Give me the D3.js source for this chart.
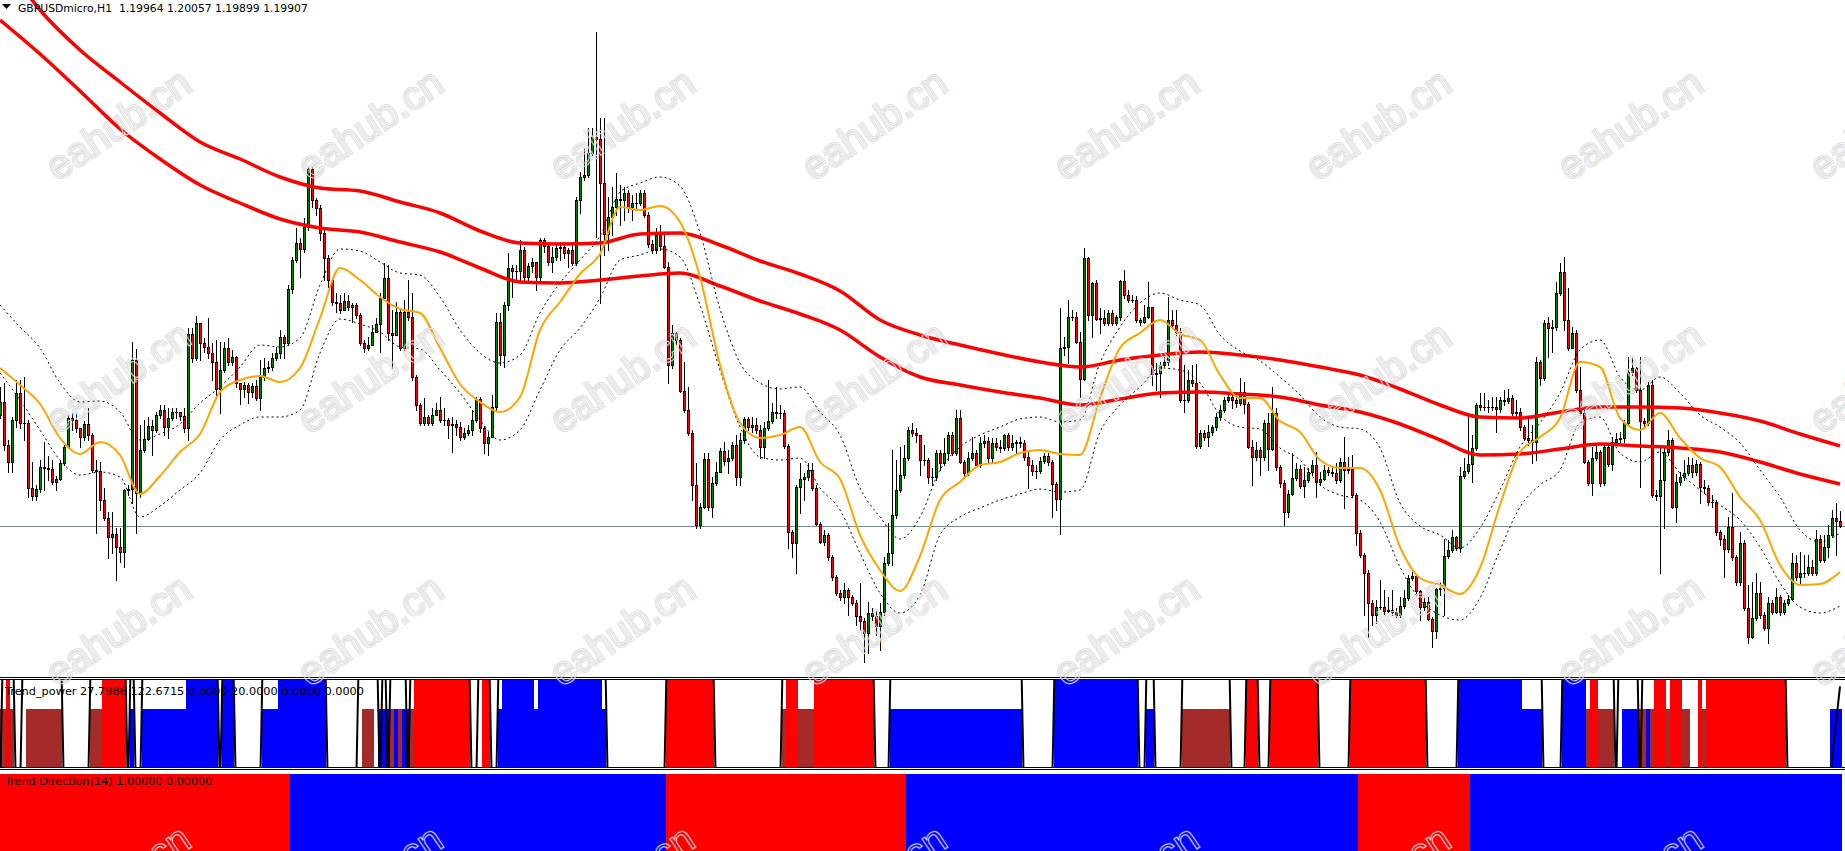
<!DOCTYPE html>
<meta charset="utf-8">
<style>
html, body { margin: 0; padding: 0; background: #fff; }
svg { display: block; }
.lbl { font-family: "DejaVu Sans", sans-serif; fill: #000; white-space: pre; }
.wm text { font-family: "Liberation Sans", Arial, sans-serif; font-size: 40px; fill: none; }
.wm .edge { stroke: rgba(120,120,120,0.28); stroke-width: 2.6px; }
.wm .core { stroke: rgba(255,255,255,0.75); stroke-width: 1px; }
</style>
<body>
<svg width="1845" height="851"></svg>
<script src="https://d3js.org/d3.v7.min.js"></script>
<script>

// GBPUSDmicro H1 bars (open = previous close)
var firstOpen = 1.2102;
var close = [
1.2115,1.2072,1.2055,1.2097,1.2124,1.2094,1.2094,1.2029,1.2021,1.2028,
1.2050,1.2049,1.2048,1.2035,1.2038,1.2054,1.2070,1.2099,1.2097,1.2089,
1.2080,1.2093,1.2082,1.2047,1.2046,1.2017,1.1999,1.1980,1.1983,1.1970,
1.1965,1.2027,1.2028,1.2157,1.2024,1.2067,1.2078,1.2091,1.2087,1.2102,
1.2107,1.2090,1.2099,1.2105,1.2105,1.2101,1.2089,1.2183,1.2159,1.2194,
1.2174,1.2170,1.2164,1.2155,1.2128,1.2147,1.2169,1.2155,1.2160,1.2134,
1.2128,1.2132,1.2125,1.2131,1.2119,1.2140,1.2149,1.2150,1.2159,1.2164,
1.2180,1.2174,1.2228,1.2257,1.2274,1.2268,1.2290,1.2348,1.2317,1.2309,
1.2284,1.2259,1.2237,1.2215,1.2214,1.2207,1.2216,1.2210,1.2212,1.2202,
1.2174,1.2169,1.2172,1.2185,1.2193,1.2219,1.2239,1.2184,1.2182,1.2205,
1.2169,1.2205,1.2200,1.2140,1.2112,1.2094,1.2100,1.2094,1.2102,1.2107,
1.2097,1.2097,1.2092,1.2093,1.2090,1.2080,1.2084,1.2087,1.2097,1.2118,
1.2089,1.2074,1.2080,1.2110,1.2195,1.2162,1.2212,1.2249,1.2246,1.2246,
1.2267,1.2240,1.2251,1.2255,1.2240,1.2277,1.2271,1.2255,1.2260,1.2269,
1.2270,1.2264,1.2267,1.2254,1.2317,1.2340,1.2342,1.2364,1.2380,1.2378,
1.2334,1.2283,1.2300,1.2310,1.2318,1.2317,1.2324,1.2310,1.2314,1.2314,
1.2324,1.2302,1.2273,1.2267,1.2282,1.2271,1.2250,1.2152,1.2184,1.2177,
1.2126,1.2107,1.2084,1.2032,1.1992,1.2010,1.2058,1.2010,1.2034,1.2045,
1.2066,1.2056,1.2059,1.2072,1.2040,1.2077,1.2098,1.2090,1.2092,1.2087,
1.2070,1.2089,1.2096,1.2105,1.2104,1.2104,1.2071,1.1985,1.1974,1.2030,
1.2038,1.2040,1.2047,1.2029,1.1993,1.1975,1.1982,1.1960,1.1940,1.1924,
1.1920,1.1927,1.1920,1.1914,1.1901,1.1896,1.1884,1.1904,1.1901,1.1891,
1.1905,1.1954,1.1964,1.2002,1.2027,1.2042,1.2059,1.2087,1.2084,1.2082,
1.2057,1.2057,1.2040,1.2040,1.2064,1.2054,1.2064,1.2082,1.2064,1.2099,
1.2055,1.2044,1.2059,1.2064,1.2052,1.2074,1.2076,1.2059,1.2074,1.2070,
1.2069,1.2082,1.2070,1.2074,1.2075,1.2074,1.2060,1.2052,1.2046,1.2046,
1.2056,1.2061,1.2055,1.2033,1.2018,1.2169,1.2170,1.2200,1.2200,1.2175,
1.2138,1.2259,1.2202,1.2234,1.2198,1.2199,1.2194,1.2204,1.2194,1.2200,
1.2236,1.2222,1.2217,1.2217,1.2197,1.2195,1.2200,1.2210,1.2143,1.2144,
1.2152,1.2155,1.2197,1.2192,1.2185,1.2117,1.2117,1.2137,1.2134,1.2071,
1.2084,1.2080,1.2085,1.2090,1.2100,1.2107,1.2117,1.2120,1.2117,1.2114,
1.2125,1.2113,1.2070,1.2060,1.2067,1.2060,1.2094,1.2068,1.2104,1.2050,
1.2034,1.2005,1.2023,1.2039,1.2048,1.2031,1.2037,1.2045,1.2052,1.2035,
1.2038,1.2047,1.2045,1.2044,1.2037,1.2055,1.2047,1.2048,1.2022,1.1984,
1.1962,1.1944,1.1914,1.1902,1.1910,1.1910,1.1906,1.1907,1.1905,1.1902,
1.1911,1.1919,1.1939,1.1941,1.1926,1.1910,1.1915,1.1898,1.1886,1.1928,
1.1929,1.1961,1.1967,1.1980,1.1969,1.2041,1.2046,1.2053,1.2069,1.2112,
1.2110,1.2110,1.2110,1.2110,1.2108,1.2117,1.2116,1.2119,1.2104,1.2105,
1.2090,1.2079,1.2077,1.2075,1.2155,1.2139,1.2194,1.2189,1.2190,1.2224,
1.2245,1.2197,1.2169,1.2184,1.2127,1.2104,1.2055,1.2034,1.2059,1.2065,
1.2034,1.2070,1.2053,1.2075,1.2078,1.2079,1.2094,1.2145,1.2149,1.2127,
1.2096,1.2094,1.2132,1.2022,1.2021,1.2037,1.2065,1.2077,1.2010,1.2035,
1.2040,1.2044,1.2052,1.2045,1.2053,1.2030,1.2029,1.2015,1.2015,1.1985,
1.1978,1.1968,1.1990,1.1960,1.1935,1.1974,1.1909,1.1880,1.1899,1.1924,
1.1902,1.1889,1.1914,1.1905,1.1920,1.1905,1.1914,1.1918,1.1954,1.1940,
1.1944,1.1944,1.1950,1.1944,1.1978,1.1957,1.1970,1.1982,1.1999,1.1996,
1.1991];

var high = [
1.2130,1.2134,1.2077,1.2100,1.2137,1.2137,1.2140,1.2097,1.2055,1.2032,
1.2057,1.2075,1.2061,1.2057,1.2041,1.2056,1.2072,1.2102,1.2104,1.2104,
1.2089,1.2096,1.2109,1.2084,1.2057,1.2055,1.2029,1.2005,1.2005,1.1989,
1.1989,1.2028,1.2032,1.2175,1.2168,1.2092,1.2097,1.2100,1.2097,1.2105,
1.2112,1.2112,1.2109,1.2109,1.2109,1.2105,1.2109,1.2189,1.2189,1.2201,
1.2194,1.2179,1.2199,1.2174,1.2177,1.2175,1.2175,1.2179,1.2167,1.2161,
1.2134,1.2135,1.2134,1.2134,1.2137,1.2157,1.2159,1.2156,1.2164,1.2170,
1.2187,1.2182,1.2232,1.2260,1.2289,1.2279,1.2299,1.2350,1.2350,1.2319,
1.2312,1.2287,1.2262,1.2239,1.2224,1.2222,1.2224,1.2222,1.2214,1.2214,
1.2204,1.2177,1.2180,1.2192,1.2199,1.2224,1.2254,1.2252,1.2207,1.2215,
1.2207,1.2217,1.2237,1.2224,1.2142,1.2114,1.2119,1.2102,1.2109,1.2114,
1.2120,1.2109,1.2099,1.2100,1.2097,1.2095,1.2089,1.2092,1.2107,1.2120,
1.2120,1.2091,1.2085,1.2122,1.2204,1.2204,1.2215,1.2264,1.2252,1.2252,
1.2277,1.2270,1.2254,1.2259,1.2255,1.2279,1.2279,1.2274,1.2270,1.2272,
1.2275,1.2275,1.2269,1.2275,1.2320,1.2345,1.2369,1.2389,1.2389,1.2485,
1.2399,1.2399,1.2320,1.2330,1.2344,1.2332,1.2330,1.2327,1.2322,1.2324,
1.2327,1.2327,1.2305,1.2277,1.2289,1.2292,1.2282,1.2255,1.2192,1.2185,
1.2179,1.2155,1.2130,1.2087,1.2054,1.2014,1.2064,1.2064,1.2040,1.2055,
1.2069,1.2075,1.2067,1.2075,1.2082,1.2084,1.2100,1.2100,1.2100,1.2099,
1.2092,1.2095,1.2137,1.2114,1.2130,1.2112,1.2107,1.2073,1.1987,1.2032,
1.2054,1.2044,1.2054,1.2054,1.2032,1.1995,1.1987,1.1984,1.1962,1.1942,
1.1927,1.1934,1.1929,1.1922,1.1917,1.1934,1.1899,1.1915,1.1909,1.1907,
1.1914,1.1960,1.1994,1.2067,1.2057,1.2070,1.2072,1.2090,1.2094,1.2089,
1.2070,1.2072,1.2059,1.2049,1.2067,1.2067,1.2079,1.2085,1.2085,1.2107,
1.2107,1.2057,1.2065,1.2080,1.2067,1.2080,1.2082,1.2080,1.2079,1.2079,
1.2077,1.2083,1.2084,1.2082,1.2077,1.2080,1.2077,1.2065,1.2057,1.2052,
1.2060,1.2064,1.2064,1.2057,1.2035,1.2209,1.2180,1.2217,1.2207,1.2205,
1.2185,1.2269,1.2260,1.2235,1.2237,1.2209,1.2207,1.2207,1.2207,1.2202,
1.2237,1.2247,1.2227,1.2222,1.2221,1.2199,1.2212,1.2235,1.2210,1.2154,
1.2155,1.2160,1.2220,1.2207,1.2207,1.2189,1.2152,1.2147,1.2152,1.2153,
1.2087,1.2087,1.2092,1.2092,1.2104,1.2112,1.2120,1.2124,1.2124,1.2120,
1.2139,1.2135,1.2115,1.2077,1.2075,1.2070,1.2097,1.2104,1.2130,1.2109,
1.2052,1.2037,1.2027,1.2064,1.2054,1.2052,1.2050,1.2049,1.2057,1.2065,
1.2045,1.2052,1.2050,1.2050,1.2054,1.2059,1.2080,1.2060,1.2062,1.2024,
1.1987,1.1964,1.1947,1.1917,1.1917,1.1937,1.1927,1.1920,1.1927,1.1909,
1.1920,1.1927,1.1942,1.1945,1.1942,1.1927,1.1920,1.1920,1.1900,1.1929,
1.1935,1.1978,1.1977,1.1987,1.1981,1.2050,1.2059,1.2104,1.2082,1.2114,
1.2124,1.2124,1.2117,1.2120,1.2120,1.2120,1.2127,1.2128,1.2122,1.2117,
1.2109,1.2092,1.2100,1.2092,1.2160,1.2157,1.2197,1.2200,1.2197,1.2235,
1.2254,1.2260,1.2229,1.2190,1.2187,1.2150,1.2107,1.2057,1.2070,1.2072,
1.2067,1.2074,1.2072,1.2080,1.2084,1.2085,1.2097,1.2160,1.2160,1.2150,
1.2160,1.2099,1.2135,1.2137,1.2027,1.2072,1.2070,1.2087,1.2079,1.2043,
1.2045,1.2057,1.2060,1.2059,1.2057,1.2055,1.2037,1.2032,1.2022,1.2017,
1.1987,1.1982,1.2000,1.2024,1.1962,1.1985,1.1977,1.1932,1.1935,1.1944,
1.1935,1.1905,1.1920,1.1917,1.1929,1.1922,1.1917,1.1922,1.1964,1.1962,
1.1965,1.1962,1.1962,1.1957,1.1987,1.1982,1.1982,1.1992,1.2007,1.2014,
1.2006];

var low = [
1.2099,1.2067,1.2045,1.2045,1.2090,1.2089,1.2077,1.2020,1.2017,1.2017,
1.2025,1.2027,1.2037,1.2033,1.2027,1.2037,1.2052,1.2069,1.2087,1.2085,
1.2070,1.2077,1.2077,1.2045,1.1984,1.2007,1.1997,1.1959,1.1964,1.1937,
1.1955,1.1950,1.2022,1.2014,1.1984,1.2020,1.2065,1.2077,1.2062,1.2085,
1.2099,1.2082,1.2079,1.2097,1.2099,1.2097,1.2085,1.2077,1.2155,1.2157,
1.2157,1.2165,1.2159,1.2137,1.2122,1.2104,1.2145,1.2152,1.2152,1.2130,
1.2113,1.2120,1.2114,1.2120,1.2117,1.2107,1.2137,1.2145,1.2147,1.2157,
1.2159,1.2159,1.2172,1.2224,1.2255,1.2240,1.2265,1.2287,1.2310,1.2302,
1.2277,1.2237,1.2230,1.2212,1.2205,1.2204,1.2207,1.2207,1.2195,1.2199,
1.2172,1.2165,1.2167,1.2172,1.2185,1.2165,1.2217,1.2177,1.2149,1.2197,
1.2167,1.2167,1.2197,1.2137,1.2107,1.2092,1.2092,1.2092,1.2092,1.2102,
1.2095,1.2092,1.2079,1.2065,1.2082,1.2077,1.2078,1.2082,1.2082,1.2095,
1.2085,1.2064,1.2062,1.2080,1.2107,1.2152,1.2150,1.2207,1.2220,1.2237,
1.2235,1.2237,1.2234,1.2245,1.2227,1.2237,1.2265,1.2252,1.2245,1.2257,
1.2257,1.2259,1.2250,1.2252,1.2252,1.2304,1.2337,1.2340,1.2362,1.2280,
1.2214,1.2262,1.2267,1.2282,1.2302,1.2292,1.2297,1.2305,1.2297,1.2307,
1.2312,1.2300,1.2270,1.2264,1.2264,1.2267,1.2249,1.2134,1.2149,1.2172,
1.2125,1.2105,1.2082,1.2017,1.1989,1.1989,1.2009,1.2007,1.2000,1.2032,
1.2045,1.2052,1.2044,1.2057,1.2032,1.2032,1.2074,1.2087,1.2085,1.2084,
1.2059,1.2059,1.2087,1.2094,1.2099,1.2099,1.2069,1.1969,1.1960,1.1944,
1.2004,1.2017,1.2037,1.2027,1.1992,1.1974,1.1972,1.1957,1.1937,1.1922,
1.1917,1.1914,1.1902,1.1912,1.1892,1.1887,1.1855,1.1864,1.1897,1.1882,
1.1867,1.1902,1.1952,1.1952,1.1999,1.2025,1.2039,1.2057,1.2081,1.2075,
1.2042,1.2052,1.2034,1.2032,1.2037,1.2047,1.2052,1.2057,1.2062,1.2062,
1.2054,1.2039,1.2042,1.2057,1.2050,1.2050,1.2070,1.2054,1.2055,1.2067,
1.2065,1.2067,1.2067,1.2067,1.2064,1.2070,1.2057,1.2029,1.2042,1.2039,
1.2044,1.2054,1.2052,1.2000,1.2007,1.1983,1.2162,1.2154,1.2197,1.2174,
1.2120,1.2137,1.2197,1.2180,1.2197,1.2184,1.2192,1.2192,1.2192,1.2192,
1.2197,1.2219,1.2215,1.2215,1.2195,1.2192,1.2194,1.2199,1.2132,1.2127,
1.2120,1.2149,1.2152,1.2189,1.2182,1.2115,1.2105,1.2115,1.2131,1.2069,
1.2069,1.2077,1.2071,1.2082,1.2087,1.2097,1.2105,1.2115,1.2109,1.2110,
1.2112,1.2104,1.2069,1.2032,1.2057,1.2042,1.2057,1.2047,1.2067,1.2047,
1.2030,1.1992,1.2000,1.2022,1.2037,1.2029,1.2020,1.2035,1.2042,1.2020,
1.2032,1.2037,1.2042,1.2041,1.2034,1.2035,1.2009,1.2044,1.2020,1.1972,
1.1960,1.1902,1.1880,1.1892,1.1894,1.1907,1.1903,1.1905,1.1902,1.1900,
1.1900,1.1909,1.1917,1.1937,1.1924,1.1897,1.1907,1.1897,1.1870,1.1879,
1.1922,1.1902,1.1959,1.1965,1.1967,1.1965,1.2039,1.2044,1.2035,1.2067,
1.2107,1.2107,1.2105,1.2107,1.2085,1.2105,1.2112,1.2114,1.2102,1.2099,
1.2087,1.2077,1.2072,1.2054,1.2057,1.2132,1.2137,1.2160,1.2165,1.2187,
1.2222,1.2187,1.2167,1.2169,1.2125,1.2102,1.2054,1.2032,1.2022,1.2057,
1.2031,1.2032,1.2051,1.2047,1.2074,1.2075,1.2075,1.2092,1.2142,1.2125,
1.2030,1.2089,1.2092,1.2020,1.2017,1.1944,1.1989,1.2062,1.2009,1.1995,
1.2032,1.2037,1.2042,1.2040,1.2042,1.2014,1.2024,1.2012,1.2010,1.1982,
1.1972,1.1940,1.1965,1.1957,1.1932,1.1932,1.1907,1.1874,1.1879,1.1897,
1.1899,1.1887,1.1874,1.1903,1.1904,1.1902,1.1903,1.1912,1.1917,1.1937,
1.1934,1.1940,1.1942,1.1942,1.1942,1.1955,1.1955,1.1960,1.1980,1.1962,
1.1990];

// fast MA (orange) and its upper / lower bands, one value every 5 bars
var maFast = [
1.2149,1.2132,1.2113,1.2079,1.2063,1.2075,1.2062,1.2023,1.2041,1.2065,
1.2083,1.2125,1.2137,1.2141,1.2135,1.2149,1.2199,1.2249,1.2237,1.2220,
1.2208,1.2204,1.2169,1.2133,1.2115,1.2105,1.2120,1.2187,1.2215,1.2243,
1.2263,1.2310,1.2307,1.2311,1.2295,1.2240,1.2152,1.2094,1.2079,1.2082,
1.2090,1.2055,1.2038,1.1982,1.1947,1.1926,1.1961,1.2017,1.2035,1.2052,
1.2055,1.2064,1.2067,1.2063,1.2062,1.2119,1.2169,1.2184,1.2197,1.2183,
1.2177,1.2142,1.2119,1.2119,1.2096,1.2085,1.2057,1.2049,1.2049,1.2027,
1.1970,1.1939,1.1932,1.1923,1.1949,1.2012,1.2065,1.2080,1.2099,1.2155,
1.2150,1.2099,1.2087,1.2104,1.2079,1.2059,1.2050,1.2020,1.1997,1.1952,
1.1932,1.1933,1.1945];

var bandUp = [
1.2212,1.2190,1.2169,1.2134,1.2115,1.2116,1.2105,1.2077,1.2083,1.2093,
1.2114,1.2130,1.2150,1.2172,1.2170,1.2179,1.2232,1.2268,1.2266,1.2255,
1.2244,1.2242,1.2220,1.2187,1.2164,1.2154,1.2162,1.2204,1.2234,1.2257,
1.2281,1.2325,1.2334,1.2340,1.2331,1.2284,1.2208,1.2154,1.2134,1.2128,
1.2130,1.2105,1.2082,1.2029,1.2000,1.1978,1.2000,1.2047,1.2070,1.2082,
1.2090,1.2098,1.2100,1.2095,1.2097,1.2154,1.2190,1.2214,1.2224,1.2217,
1.2212,1.2182,1.2166,1.2156,1.2140,1.2122,1.2100,1.2090,1.2088,1.2069,
1.2014,1.1991,1.1982,1.1969,1.1989,1.2027,1.2070,1.2094,1.2124,1.2167,
1.2177,1.2140,1.2127,1.2140,1.2124,1.2102,1.2090,1.2074,1.2047,1.2020,
1.1987,1.1975,1.1984];

var bandDn = [
1.2144,1.2117,1.2087,1.2057,1.2042,1.2045,1.2040,1.2000,1.2011,1.2027,
1.2044,1.2077,1.2092,1.2100,1.2100,1.2107,1.2164,1.2198,1.2193,1.2185,
1.2170,1.2168,1.2147,1.2124,1.2097,1.2077,1.2087,1.2127,1.2167,1.2189,
1.2219,1.2257,1.2262,1.2268,1.2260,1.2212,1.2147,1.2090,1.2060,1.2057,
1.2059,1.2029,1.2007,1.1964,1.1924,1.1904,1.1922,1.1982,1.2000,1.2009,
1.2017,1.2023,1.2028,1.2025,1.2027,1.2085,1.2112,1.2130,1.2149,1.2147,
1.2134,1.2102,1.2090,1.2088,1.2069,1.2057,1.2032,1.2022,1.2017,1.1995,
1.1950,1.1917,1.1902,1.1897,1.1919,1.1967,1.2010,1.2032,1.2047,1.2094,
1.2100,1.2064,1.2055,1.2065,1.2044,1.2027,1.2012,1.1997,1.1970,1.1934,
1.1910,1.1904,1.1911];

// slow MA envelope (red), one value every 10 bars
var slowUp = [
1.2562,1.2507,1.2467,1.2435,1.2404,1.2375,1.2358,1.2340,1.2329,1.2326,
1.2315,1.2304,1.2286,1.2274,1.2273,1.2274,1.2283,1.2284,1.2272,1.2256,
1.2243,1.2226,1.2197,1.2182,1.2172,1.2163,1.2155,1.2150,1.2157,1.2162,
1.2165,1.2162,1.2157,1.2150,1.2142,1.2128,1.2112,1.2100,1.2099,1.2105,
1.2110,1.2110,1.2109,1.2104,1.2096,1.2083,1.2071];

var slowDn = [
1.2497,1.2463,1.2426,1.2388,1.2358,1.2332,1.2314,1.2298,1.2289,1.2285,
1.2275,1.2265,1.2249,1.2235,1.2234,1.2237,1.2241,1.2244,1.2231,1.2216,
1.2203,1.2187,1.2160,1.2140,1.2132,1.2125,1.2119,1.2112,1.2118,1.2124,
1.2125,1.2123,1.2120,1.2112,1.2105,1.2093,1.2077,1.2062,1.2063,1.2068,
1.2073,1.2071,1.2069,1.2065,1.2055,1.2043,1.2033];

// Trend_power histogram, runs of bars [first, last]
var strongDown = [[2,2],[26,31],[104,117],[121,122],[167,178],[197,199],[204,218],[312,314],[318,329],[338,356],[398,399],[414,416],[418,420],[425,425],[427,446]];
var strongUp = [[47,54],[56,58],[70,81],[126,133],[135,150],[264,284],[365,380],[391,396]];
var weakDown = [[0,3],[7,15],[23,25],[91,93],[98,98],[100,100],[103,103],[196,204],[296,307],[396,403],[410,422],[426,426]];
var weakUp = [[33,33],[36,54],[66,81],[95,97],[99,99],[101,102],[125,151],[223,255],[264,284],[287,288],[365,385],[406,409],[412,412],[458,460]];
// Trend_power line, [bar, value]
var powerLine = [[0,-10],[1,60],[3,60],[4,-10],[5,-10],[6,60],[15,60],[16,-10],[22,-10],[23,60],[31,60],[32,-10],[33,60],[34,-10],[35,-10],[36,60],[54,60],[55,-10],[56,60],[58,60],[59,-10],[65,-10],[66,60],[81,60],[82,-10],[89,-10],[90,60],[94,60],[95,-10],[96,60],[97,-10],[98,60],[101,60],[102,-10],[103,60],[117,60],[118,-10],[119,-10],[120,60],[122,60],[123,-10],[124,-10],[125,60],[151,60],[152,-10],[166,-10],[167,60],[178,60],[179,-10],[195,-10],[196,60],[218,60],[219,-10],[222,-10],[223,60],[255,60],[256,-10],[263,-10],[264,60],[284,60],[285,-10],[286,-10],[287,60],[288,60],[289,-10],[295,-10],[296,60],[307,60],[308,-10],[311,-10],[312,60],[314,60],[315,-10],[317,-10],[318,60],[329,60],[330,-10],[337,-10],[338,60],[356,60],[357,-10],[364,-10],[365,60],[385,60],[386,-10],[390,-10],[391,60],[403,60],[404,-10],[405,60],[409,60],[410,-10],[411,60],[446,60],[447,-10],[457,-10],[460,27.8]];

// Trend Direction(14), runs of bars
var dirDown = [[0,72],[167,226],[340,367]];
var dirUp = [[73,166],[227,339],[368,460]];

var titleText = "GBPUSDmicro,H1  1.19964 1.20057 1.19899 1.19907";
var powerText = "Trend_power 27.7986 122.6715 0.0000 20.0000 0.0000 0.0000";
var dirText = "Trend Direction(14) 1.00000 0.00000";

/** setup **/
var svg = d3.select("svg"),
    width = +svg.attr("width"),
    height = +svg.attr("height");

var mainBottom = 677;

var bars = close.map(function(c, i) {
    var o = i == 0 ? firstOpen : close[i - 1];
    return {i: i, o: o, c: c, h: Math.max(high[i], o, c), l: Math.min(low[i], o, c)};
});

var x = d3.scaleLinear().domain([0, bars.length - 1]).range([0, (bars.length - 1) * 4]);
var y = d3.scaleLinear().domain([1.1840, 1.2517]).range([mainBottom, 0]);
var yPow = d3.scaleLinear().domain([0, 30]).range([767, 680]);
var yDir = d3.scaleLinear().domain([0, 1]).range([900, 774]);

var defs = svg.append("defs");
defs.append("clipPath").attr("id", "clip_main")
    .append("rect").attr("x", 0).attr("y", 0).attr("width", width).attr("height", mainBottom);
defs.append("clipPath").attr("id", "clip_pow")
    .append("rect").attr("x", 0).attr("y", 680).attr("width", width).attr("height", 87);

/** main chart **/
var main = svg.append("g").attr("clip-path", "url(#clip_main)");

// bid line
main.append("line")
    .attr("x1", 0).attr("x2", width)
    .attr("y1", Math.round(y(close[close.length - 1])) + 0.5)
    .attr("y2", Math.round(y(close[close.length - 1])) + 0.5)
    .attr("stroke", "#778899").attr("stroke-width", 1);

var candle = main.append("g").attr("shape-rendering", "crispEdges")
    .selectAll("g").data(bars).enter().append("g");

candle.append("rect")
    .attr("x", function(d) { return x(d.i); })
    .attr("width", 1)
    .attr("y", function(d) { return Math.round(y(d.h)); })
    .attr("height", function(d) { return Math.max(1, Math.round(y(d.l)) - Math.round(y(d.h)) + 1); })
    .attr("fill", "#000");

candle.append("rect")
    .attr("x", function(d) { return x(d.i) - 1; })
    .attr("width", 3)
    .attr("y", function(d) { return Math.round(y(Math.max(d.o, d.c))); })
    .attr("height", function(d) { return Math.round(y(Math.min(d.o, d.c))) - Math.round(y(Math.max(d.o, d.c))) + 1; })
    .attr("fill", "#000");

candle.filter(function(d) { return Math.round(y(Math.min(d.o, d.c))) - Math.round(y(Math.max(d.o, d.c))) >= 2; })
    .append("rect")
    .attr("x", function(d) { return x(d.i); })
    .attr("width", 1)
    .attr("y", function(d) { return Math.round(y(Math.max(d.o, d.c))) + 1; })
    .attr("height", function(d) { return Math.round(y(Math.min(d.o, d.c))) - Math.round(y(Math.max(d.o, d.c))) - 1; })
    .attr("fill", function(d) { return d.c >= d.o ? "#008000" : "#ff0000"; });

// indicator lines
function sampled(arr, step) {
    return arr.map(function(v, j) { return [j * step, v]; });
}
var priceLine = d3.line()
    .x(function(d) { return x(d[0]); })
    .y(function(d) { return y(d[1]); })
    .curve(d3.curveMonotoneX);

main.append("path").datum(sampled(slowUp, 10)).attr("d", priceLine)
    .attr("fill", "none").attr("stroke", "#ff0000").attr("stroke-width", 3.5);
main.append("path").datum(sampled(slowDn, 10)).attr("d", priceLine)
    .attr("fill", "none").attr("stroke", "#ff0000").attr("stroke-width", 3.5);
main.append("path").datum(sampled(bandUp, 5)).attr("d", priceLine)
    .attr("fill", "none").attr("stroke", "#000").attr("stroke-width", 1).attr("stroke-dasharray", "2,3");
main.append("path").datum(sampled(bandDn, 5)).attr("d", priceLine)
    .attr("fill", "none").attr("stroke", "#000").attr("stroke-width", 1).attr("stroke-dasharray", "2,3");
main.append("path").datum(sampled(maFast, 5)).attr("d", priceLine)
    .attr("fill", "none").attr("stroke", "#ffa500").attr("stroke-width", 2);

// title
svg.append("path").attr("d", "M2,4 L11,4 L6.5,9 Z").attr("fill", "#000");
svg.append("text").attr("class", "lbl").attr("x", 18).attr("y", 12)
    .style("font-size", "10.8px").text(titleText);

/** separators **/
[677.5, 679.5, 767.5, 769.5].forEach(function(yy) {
    svg.append("line").attr("x1", 0).attr("x2", width).attr("y1", yy).attr("y2", yy)
        .attr("stroke", "#000").attr("stroke-width", 1);
});

/** Trend_power panel **/
var pow = svg.append("g").attr("clip-path", "url(#clip_pow)").attr("shape-rendering", "crispEdges");

function runBars(g, runs, value, colour, scale) {
    g.append("g").selectAll("rect").data(runs).enter().append("rect")
        .attr("x", function(d) { return x(d[0]) - 2; })
        .attr("width", function(d) { return x(d[1]) - x(d[0]) + 4; })
        .attr("y", scale(value))
        .attr("height", scale(0) - scale(value))
        .attr("fill", colour);
}
runBars(pow, weakDown, 20, "#a52a2a", yPow);
runBars(pow, weakUp, 20, "#0000ff", yPow);
runBars(pow, strongDown, 30, "#ff0000", yPow);
runBars(pow, strongUp, 30, "#0000ff", yPow);

pow.append("path").datum(powerLine)
    .attr("d", d3.line().x(function(d) { return x(d[0]); }).y(function(d) { return yPow(d[1]); }))
    .attr("fill", "none").attr("stroke", "#000").attr("stroke-width", 2)
    .attr("shape-rendering", "auto");

svg.append("text").attr("class", "lbl").attr("x", 5).attr("y", 695)
    .style("font-size", "11.3px").text(powerText);

/** Trend Direction panel **/
var dir = svg.append("g").attr("shape-rendering", "crispEdges");
runBars(dir, dirDown, 1, "#ff0000", yDir);
runBars(dir, dirUp, 1, "#0000ff", yDir);

svg.append("text").attr("class", "lbl").attr("x", 5).attr("y", 785)
    .style("font-size", "11.2px").text(dirText);

// watermark, laid over the whole picture
var wm = svg.append("g").attr("class", "wm");
[118, 370, 622, 874, 1126, 1378, 1630, 1882].forEach(function(cx) {
    [124, 377, 630, 880].forEach(function(cy) {
        ["edge", "core"].forEach(function(cls) {
            wm.append("text")
                .attr("class", cls)
                .attr("transform", "translate(" + cx + "," + cy + ") rotate(-34)")
                .attr("text-anchor", "middle")
                .attr("dy", "0.35em")
                .text("eahub.cn");
        });
    });
});

</script>
</body>
